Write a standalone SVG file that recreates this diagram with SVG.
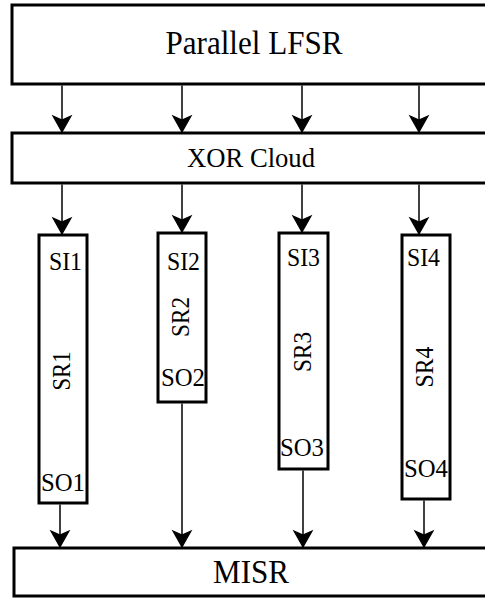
<svg xmlns="http://www.w3.org/2000/svg" width="485" height="598" viewBox="0 0 485 598">
<style>
.box{fill:#fff;stroke:#000;stroke-width:3}
.wire{fill:none;stroke:#000;stroke-width:1.5}
.big{font-family:'Liberation Serif','DejaVu Serif',serif;fill:#000;text-anchor:middle}
.lab{font-family:'Liberation Serif','DejaVu Serif',serif;font-size:25px;fill:#000}
</style>
<defs>
<marker id="ah" markerUnits="userSpaceOnUse" markerWidth="20" markerHeight="22" viewBox="-18 -11 20 22" refX="0" refY="0" orient="auto">
<path d="M0,0 L-16,-9 L-12,0 L-16,9 Z" fill="#000" stroke="#000" stroke-width="1.2" stroke-linejoin="miter"/>
</marker>
</defs>
<g id="lfsr"><rect class="box" x="12" y="5" width="480" height="79"/><text class="big" x="254" y="54" font-size="33" textLength="177" lengthAdjust="spacingAndGlyphs">Parallel LFSR</text></g>
<g id="xor"><rect class="box" x="12" y="133" width="480" height="50"/><text class="big" x="251" y="167" font-size="27" textLength="128" lengthAdjust="spacingAndGlyphs">XOR Cloud</text></g>
<g id="sr1"><rect class="box" x="39" y="235" width="48" height="268"/><text class="lab" x="49" y="270" textLength="33" lengthAdjust="spacingAndGlyphs">SI1</text><text class="lab" x="41" y="491" textLength="44" lengthAdjust="spacingAndGlyphs">SO1</text><text class="lab" text-anchor="middle" transform="translate(70,371) rotate(-90)" textLength="39" lengthAdjust="spacingAndGlyphs">SR1</text></g>
<g id="sr2"><rect class="box" x="158" y="233" width="48" height="169"/><text class="lab" x="167" y="270" textLength="33" lengthAdjust="spacingAndGlyphs">SI2</text><text class="lab" x="161" y="386" textLength="44" lengthAdjust="spacingAndGlyphs">SO2</text><text class="lab" text-anchor="middle" transform="translate(189,317) rotate(-90)" textLength="40" lengthAdjust="spacingAndGlyphs">SR2</text></g>
<g id="sr3"><rect class="box" x="279" y="233" width="49" height="236"/><text class="lab" x="287" y="266" textLength="33" lengthAdjust="spacingAndGlyphs">SI3</text><text class="lab" x="280" y="456" textLength="44" lengthAdjust="spacingAndGlyphs">SO3</text><text class="lab" text-anchor="middle" transform="translate(311,352) rotate(-90)" textLength="40" lengthAdjust="spacingAndGlyphs">SR3</text></g>
<g id="sr4"><rect class="box" x="402" y="235" width="48" height="264"/><text class="lab" x="407" y="266" textLength="33" lengthAdjust="spacingAndGlyphs">SI4</text><text class="lab" x="404" y="477" textLength="44" lengthAdjust="spacingAndGlyphs">SO4</text><text class="lab" text-anchor="middle" transform="translate(433,367) rotate(-90)" textLength="41" lengthAdjust="spacingAndGlyphs">SR4</text></g>
<g id="misr"><rect class="box" x="14" y="548" width="480" height="48"/><text class="big" x="251" y="583" font-size="33" textLength="76" lengthAdjust="spacingAndGlyphs">MISR</text></g>
<g id="connectors">
<path class="wire" d="M62,85.5V132" marker-end="url(#ah)"/>
<path class="wire" d="M182,85.5V132" marker-end="url(#ah)"/>
<path class="wire" d="M302,85.5V132" marker-end="url(#ah)"/>
<path class="wire" d="M419,85.5V132" marker-end="url(#ah)"/>
<path class="wire" d="M62,184.5V234" marker-end="url(#ah)"/>
<path class="wire" d="M182,184.5V232" marker-end="url(#ah)"/>
<path class="wire" d="M302,184.5V232" marker-end="url(#ah)"/>
<path class="wire" d="M419,184.5V234" marker-end="url(#ah)"/>
<path class="wire" d="M60,504.5V547" marker-end="url(#ah)"/>
<path class="wire" d="M182,403.5V547" marker-end="url(#ah)"/>
<path class="wire" d="M303,470.5V547" marker-end="url(#ah)"/>
<path class="wire" d="M424,500.5V547" marker-end="url(#ah)"/>
</g>
</svg>
